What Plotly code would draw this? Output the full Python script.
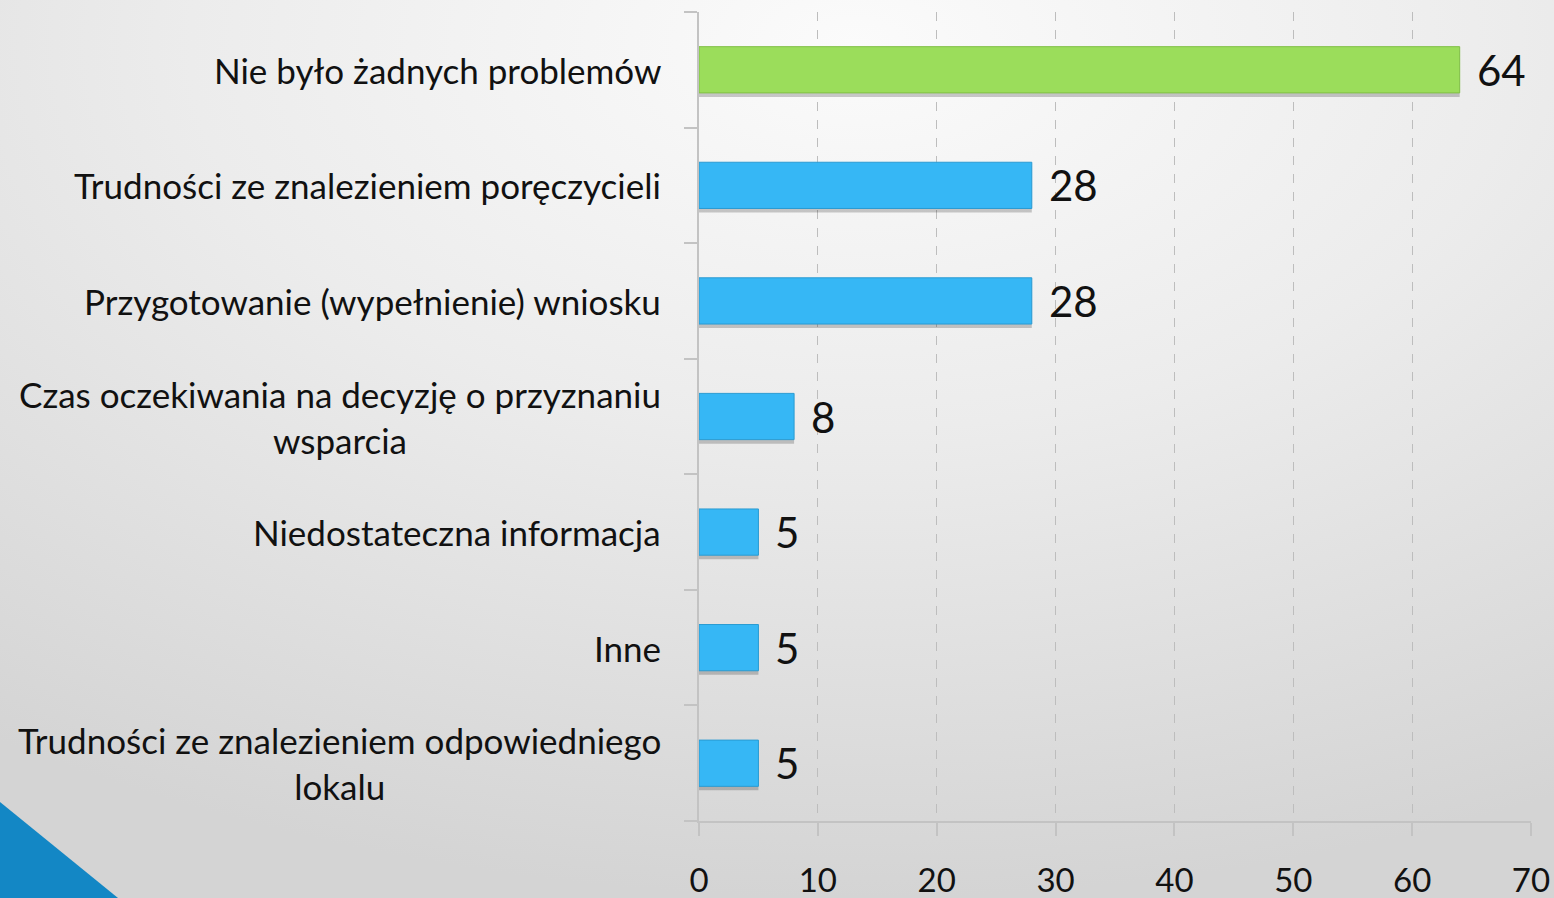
import base64
import plotly.graph_objects as go

categories = [
    "Trudności ze znalezieniem odpowiedniego<br>lokalu",
    "Inne",
    "Niedostateczna informacja",
    "Czas oczekiwania na decyzję o przyznaniu<br>wsparcia",
    "Przygotowanie (wypełnienie) wniosku",
    "Trudności ze znalezieniem poręczycieli",
    "Nie było żadnych problemów",
]
values = [5, 5, 5, 8, 28, 28, 64]
bar_colors = ["#36b7f5"] * 6 + ["#9bdd5b"]
line_colors = ["#2a9bd2"] * 6 + ["#80bf45"]
x_ticks = [0, 10, 20, 30, 40, 50, 60, 70]

W, H = 1554, 898
L, R, T, B = 699, 23, 12, 77
pw, ph = W - L - R, H - T - B

svg = f'''<svg xmlns="http://www.w3.org/2000/svg" width="{W}" height="{H}" viewBox="0 0 {W} {H}" preserveAspectRatio="none">
<defs><radialGradient id="g" cx="0.55" cy="0.05" r="0.95" gradientUnits="objectBoundingBox">
<stop offset="0" stop-color="#fbfbfb"/><stop offset="0.45" stop-color="#ececec"/><stop offset="1" stop-color="#d4d4d4"/>
</radialGradient></defs>
<rect x="0" y="0" width="{W}" height="{H}" fill="url(#g)"/>
<polygon points="0,802 118,898 0,898" fill="#1387c5"/>
</svg>'''
uri = "data:image/svg+xml;base64," + base64.b64encode(svg.encode()).decode()

fig = go.Figure()
# soft drop shadow under each bar
fig.add_trace(go.Bar(
    y=categories, x=values, orientation="h",
    marker=dict(color="rgba(0,0,0,0.2)", line=dict(width=0)),
    width=0.4, offset=-0.2 - 0.035, hoverinfo="skip",
))
fig.add_trace(go.Bar(
    y=categories, x=values, orientation="h",
    marker=dict(color=bar_colors, line=dict(color=line_colors, width=1)),
    width=0.4, offset=-0.2, hoverinfo="skip",
))

annotations = []
for c, v in zip(categories, values):
    annotations.append(dict(x=v, y=c, xref="x", yref="y", text=str(v), showarrow=False,
                            xanchor="left", xshift=15, font=dict(size=42, color="#111", family="Lato")))
    annotations.append(dict(x=0, y=c, xref="paper", yref="y", text=c, showarrow=False,
                            xanchor="right", xshift=-36, align="center",
                            font=dict(size=35, color="#111", family="Lato")))

fig.update_layout(
    width=W, height=H, autosize=False,
    margin=dict(l=L, r=R, t=T, b=B, pad=0, autoexpand=False),
    paper_bgcolor="#e6e6e6", plot_bgcolor="rgba(0,0,0,0)",
    showlegend=False, barmode="overlay",
    images=[dict(source=uri, xref="paper", yref="paper", x=-L / pw, y=1 + T / ph,
                 sizex=W / pw, sizey=H / ph, xanchor="left", yanchor="top",
                 sizing="stretch", layer="below")],
    xaxis=dict(range=[0, 70], tickvals=x_ticks, showgrid=True, gridcolor="#bdbdbd",
               griddash="dash", gridwidth=1, zeroline=False, showline=True,
               linecolor="#c3c3c3", linewidth=2, ticks="outside", ticklen=13,
               tickcolor="#c3c3c3", tickwidth=2, automargin=False,
               tickfont=dict(size=33, family="Lato", color="#111"), ticklabelstandoff=16),
    yaxis=dict(showticklabels=False, tickson="boundaries", ticks="outside", ticklen=13,
               tickcolor="#c3c3c3", tickwidth=2, showgrid=False, showline=True,
               linecolor="#c3c3c3", linewidth=2, range=[-0.5, 6.5], automargin=False),
    annotations=annotations,
)
fig.write_html("out.html", config={"displayModeBar": False},
               post_script="document.body.style.margin='0';document.body.style.overflow='hidden';")
